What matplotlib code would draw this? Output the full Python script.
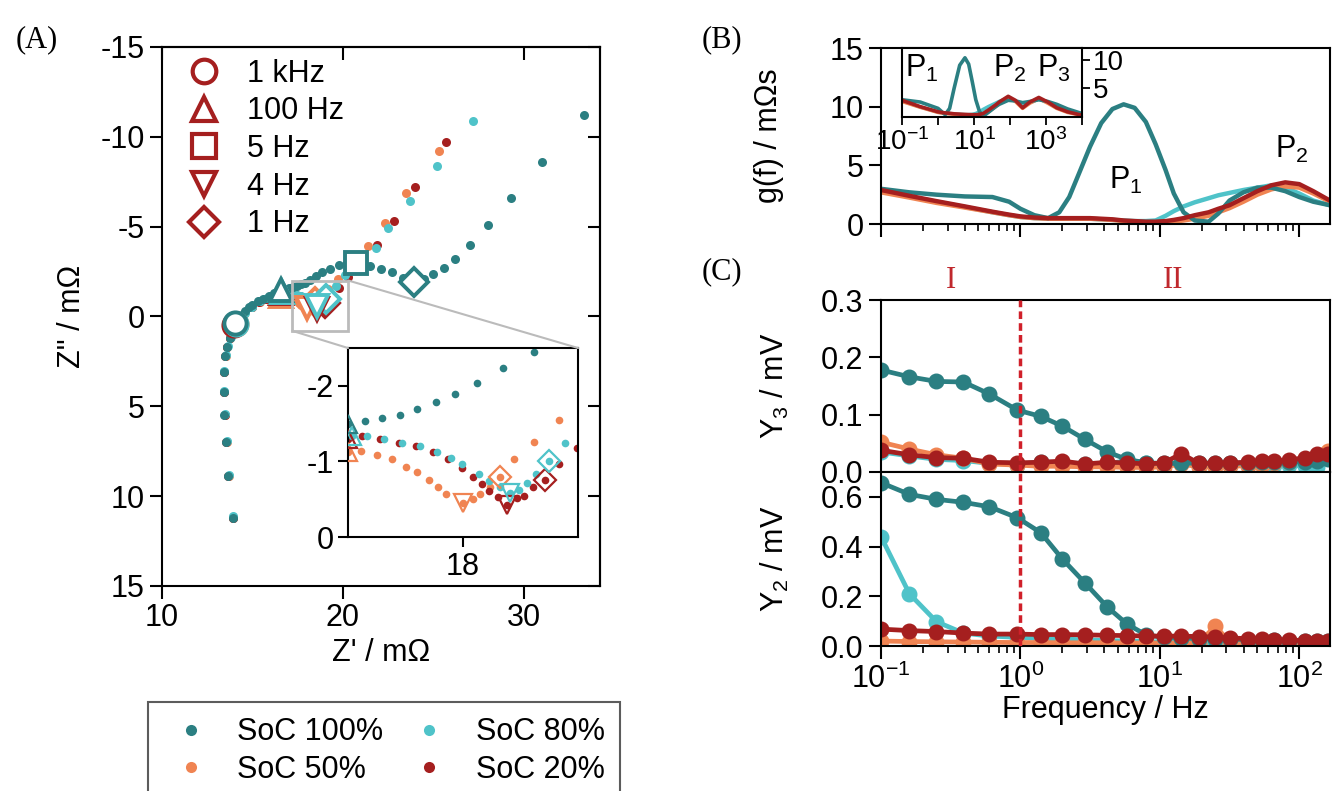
import numpy as np
import matplotlib
matplotlib.use("Agg")
import matplotlib.pyplot as plt
from matplotlib.lines import Line2D
from matplotlib.patches import Rectangle, ConnectionPatch
from matplotlib.ticker import FormatStrFormatter, LogLocator, NullFormatter, FixedLocator
import matplotlib.transforms as mtransforms

plt.rcParams['font.family'] = ['Liberation Sans', 'DejaVu Sans']
plt.rcParams['mathtext.fontset'] = 'custom'
plt.rcParams['mathtext.rm'] = 'Liberation Sans'
plt.rcParams['mathtext.it'] = 'Liberation Sans:italic'
plt.rcParams['axes.linewidth'] = 1.5
plt.rcParams['axes.unicode_minus'] = False
FS = 22

# colours of the four states of charge
c100 = '#2b7f82'
c80 = '#4fc3c9'
c50 = '#f08452'
c20 = '#a51f1f'
red_line = '#d0202a'

# ---------------- (A) Nyquist data: Z' and Z'' in mOhm ----------------
zr_100 = [13.91, 13.66, 13.55, 13.45, 13.40, 13.40, 13.50, 13.60, 13.75, 14.05,
          14.2, 14.4, 14.6, 14.8, 15.0, 15.3, 15.6, 15.9, 16.2, 16.4, 16.6,
          16.81, 17.01, 17.23, 17.44, 17.67, 17.90, 18.17, 18.49, 18.86,
          19.3, 19.8, 20.25, 20.7, 21.5, 22.1, 22.7, 23.3, 23.9,
          24.5, 25.0, 25.6, 26.2, 27.0, 28.0, 29.3, 31.0, 33.3]
zi_100 = [11.2, 8.9, 7.0, 5.5, 4.2, 3.1, 2.2, 1.7, 1.2, 0.35,
          0.15, -0.1, -0.3, -0.5, -0.65, -0.85, -1.0, -1.15, -1.3, -1.4, -1.5,
          -1.53, -1.58, -1.62, -1.70, -1.79, -1.89, -2.04, -2.24, -2.45,
          -2.65, -2.85, -2.95, -2.95, -2.8, -2.65, -2.45, -2.15, -1.9,
          -2.1, -2.35, -2.7, -3.2, -4.0, -5.1, -6.6, -8.6, -11.2]
mk_100 = {'o': 9, '^': 20, 's': 33, 'D': 38}

zr_80 = [13.95, 13.70, 13.58, 13.48, 13.43, 13.43, 13.52, 13.63, 13.80, 14.10,
         14.3, 14.6, 15.0, 15.4, 15.8, 16.2, 16.65,
         16.83, 17.04, 17.26, 17.48, 17.68, 17.85, 17.99, 18.19, 18.32, 18.45,
         18.57, 18.68, 18.78, 18.89, 19.05, 19.24,
         19.6, 20.1, 20.8, 21.8, 22.5, 23.7, 25.2, 27.2]
zi_80 = [11.1, 8.85, 6.95, 5.45, 4.15, 3.05, 2.15, 1.65, 1.15, 0.40,
         0.15, -0.2, -0.55, -0.85, -1.05, -1.2, -1.34,
         -1.33, -1.30, -1.25, -1.21, -1.13, -1.05, -0.96, -0.83, -0.74, -0.66,
         -0.58, -0.62, -0.71, -0.84, -1.0, -1.25,
         -1.7, -2.3, -3.0, -3.8, -4.9, -6.4, -8.4, -10.9]
mk_80 = {'o': 9, '^': 16, 'D': 31, 'v': 27}

zr_50 = [13.93, 13.68, 13.57, 13.47, 13.42, 13.42, 13.52, 13.62, 13.78, 14.08,
         14.3, 14.6, 15.0, 15.4, 15.8, 16.2, 16.6,
         16.76, 16.95, 17.14, 17.31, 17.44, 17.59, 17.69, 17.79, 18.0,
         18.12, 18.21, 18.33, 18.45, 18.62, 18.86, 19.17,
         19.7, 20.4, 21.4, 22.3, 23.5, 25.3]
zi_50 = [11.2, 8.9, 7.0, 5.5, 4.2, 3.1, 2.2, 1.7, 1.2, 0.4,
         0.1, -0.25, -0.55, -0.8, -0.95, -1.05, -1.12,
         -1.14, -1.09, -1.03, -0.93, -0.86, -0.75, -0.66, -0.57, -0.45,
         -0.50, -0.57, -0.66, -0.80, -1.03, -1.26, -1.55,
         -2.1, -2.9, -3.9, -5.2, -6.9, -9.2]
mk_50 = {'o': 9, '^': 16, 'D': 29, 'v': 25}

zr_20 = [13.92, 13.67, 13.56, 13.46, 13.41, 13.41, 13.51, 13.61, 13.76, 14.0,
         14.25, 14.55, 14.95, 15.35, 15.75, 16.15, 16.6,
         16.77, 16.99, 17.22, 17.43, 17.63, 17.82, 17.99, 18.12, 18.23, 18.32,
         18.43, 18.54, 18.66, 18.74, 18.85, 19.00, 19.17, 19.39,
         19.8, 20.3, 21.0, 21.9, 22.8, 24.0, 25.7]
zi_20 = [11.2, 8.9, 7.0, 5.5, 4.2, 3.1, 2.2, 1.7, 1.2, 0.5,
         0.2, -0.15, -0.5, -0.8, -1.0, -1.15, -1.3,
         -1.33, -1.30, -1.25, -1.20, -1.12, -1.03, -0.91, -0.79, -0.70, -0.61,
         -0.53, -0.42, -0.51, -0.54, -0.66, -0.75, -0.97, -1.18,
         -1.6, -2.2, -3.0, -4.0, -5.3, -7.2, -9.7]
mk_20 = {'o': 9, '^': 16, 'D': 32, 'v': 28}

freq_marks = ['o', '^', 's', 'v', 'D']
freq_labels = ['1 kHz', '100 Hz', '5 Hz', '4 Hz', '1 Hz']

# ---------------- (B) distribution of relaxation times ----------------
f_b = [0.1, 0.16, 0.25, 0.4, 0.63, 0.83, 1.0, 1.26, 1.58, 1.9, 2.24, 2.63, 3.16,
       3.8, 4.57, 5.5, 6.6, 7.94, 9.33, 11.0, 12.6, 14.8, 17.8, 22.4, 26.3,
       31.6, 39.8, 50.1, 63.1, 79.4, 100, 126, 166]
g_100 = [3.0, 2.7, 2.5, 2.35, 2.3, 1.9, 1.3, 0.75, 0.5, 1.0, 2.3, 4.3, 6.6,
         8.6, 9.8, 10.2, 9.9, 8.7, 6.8, 4.6, 2.6, 1.0, 0.3, 0.2, 0.9,
         2.0, 2.7, 3.1, 3.1, 2.8, 2.3, 1.9, 1.6]
g_80 = [2.8, 2.35, 1.9, 1.45, 1.0, 0.75, 0.6, 0.5, 0.45, 0.45, 0.45, 0.45, 0.45,
        0.4, 0.35, 0.3, 0.25, 0.25, 0.3, 0.7, 1.1, 1.5, 1.85, 2.2, 2.45,
        2.65, 2.9, 3.1, 3.3, 3.1, 2.6, 2.0, 1.6]
g_50 = [2.7, 2.25, 1.8, 1.4, 1.0, 0.75, 0.6, 0.5, 0.45, 0.45, 0.45, 0.45, 0.45,
        0.4, 0.35, 0.25, 0.15, 0.1, 0.1, 0.12, 0.2, 0.3, 0.45, 0.7, 1.0,
        1.35, 1.9, 2.5, 2.95, 3.2, 3.1, 2.6, 1.9]
g_20 = [2.9, 2.4, 1.95, 1.5, 1.05, 0.8, 0.65, 0.55, 0.5, 0.5, 0.5, 0.5, 0.5,
        0.45, 0.4, 0.3, 0.25, 0.2, 0.2, 0.25, 0.35, 0.5, 0.75, 1.0, 1.3,
        1.6, 2.2, 2.8, 3.3, 3.55, 3.4, 2.8, 2.0]

f_in = [0.1, 0.32, 1.0, 1.58, 2.1, 2.8, 4.0, 5.6, 7.1, 8.9, 11.2, 14.1, 17.8, 25,
        40, 50, 89, 141, 224, 355, 631, 1122, 1995, 3981, 10000]
gi_100 = [3.0, 2.6, 1.5, 0.4, 1.5, 5.0, 9.0, 10.3, 9.2, 6.2, 3.0, 1.0, 0.1, 0.8,
          1.8, 2.2, 2.9, 2.8, 2.5, 2.7, 3.0, 2.7, 2.2, 1.4, 0.6]
gi_80 = [2.8, 1.75, 0.85, 0.65, 0.6, 0.5, 0.45, 0.4, 0.4, 0.45, 0.6, 0.9, 1.3, 1.8,
         2.4, 2.7, 3.3, 2.8, 1.8, 2.5, 3.1, 2.6, 1.8, 1.0, 0.4]
gi_50 = [2.7, 1.7, 0.8, 0.6, 0.55, 0.45, 0.4, 0.3, 0.27, 0.25, 0.2, 0.25, 0.4, 0.9,
         1.8, 2.4, 3.3, 2.7, 1.5, 2.4, 3.2, 2.4, 1.5, 0.8, 0.3]
gi_20 = [2.9, 1.8, 0.9, 0.7, 0.65, 0.55, 0.5, 0.45, 0.42, 0.4, 0.4, 0.45, 0.6, 1.2,
         2.1, 2.6, 3.6, 2.9, 1.6, 2.6, 3.4, 2.6, 1.6, 0.9, 0.3]

# ---------------- (C) harmonics Y3 and Y2 in mV ----------------
f_c = [0.1, 0.16, 0.25, 0.39, 0.6, 0.95, 1.4, 2.0, 2.9, 4.2, 5.8, 8.0, 10.7,
       14.3, 19, 25, 32, 43, 54, 66, 85, 110, 135, 162]
y3_100 = [0.178, 0.166, 0.158, 0.157, 0.136, 0.108, 0.097, 0.080, 0.057, 0.035,
          0.022, 0.016, 0.015, 0.015, 0.016, 0.015, 0.015, 0.016, 0.017, 0.017,
          0.018, 0.018, 0.020, 0.022]
y3_80 = [0.035, 0.028, 0.022, 0.020, 0.015, 0.013, 0.018, 0.016, 0.014, 0.014,
         0.020, 0.016, 0.013, 0.017, 0.012, 0.012, 0.012, 0.013, 0.014, 0.012,
         0.012, 0.010, 0.008, 0.025]
y3_50 = [0.052, 0.040, 0.030, 0.024, 0.014, 0.012, 0.010, 0.010, 0.009, 0.009,
         0.008, 0.008, 0.009, 0.014, 0.009, 0.009, 0.010, 0.011, 0.013, 0.016,
         0.018, 0.022, 0.030, 0.037]
y3_20 = [0.038, 0.030, 0.025, 0.024, 0.017, 0.016, 0.017, 0.019, 0.014, 0.017,
         0.016, 0.014, 0.016, 0.032, 0.015, 0.016, 0.016, 0.017, 0.019, 0.019,
         0.021, 0.025, 0.031, 0.032]
y2_100 = [0.657, 0.610, 0.590, 0.578, 0.560, 0.516, 0.456, 0.350, 0.254, 0.157,
          0.089, 0.044, 0.035, 0.033, 0.030, 0.030, 0.028, 0.026, 0.025, 0.024,
          0.022, 0.020, 0.020, 0.020]
y2_80 = [0.440, 0.210, 0.098, 0.052, 0.040, 0.035, 0.030, 0.028, 0.025, 0.022,
         0.020, 0.018, 0.016, 0.015, 0.015, 0.014, 0.013, 0.013, 0.012, 0.012,
         0.012, 0.012, 0.011, 0.011]
y2_50 = [0.020, 0.018, 0.017, 0.016, 0.015, 0.014, 0.014, 0.013, 0.013, 0.013,
         0.012, 0.012, 0.012, 0.012, 0.013, 0.080, 0.014, 0.012, 0.011, 0.011,
         0.010, 0.010, 0.010, 0.010]
y2_20 = [0.068, 0.062, 0.058, 0.052, 0.048, 0.048, 0.046, 0.046, 0.045, 0.043,
         0.042, 0.040, 0.040, 0.040, 0.038, 0.036, 0.032, 0.030, 0.028, 0.026,
         0.024, 0.022, 0.021, 0.020]

# drawing order: back to front
nyq = [(zr_50, zi_50, mk_50, c50), (zr_20, zi_20, mk_20, c20),
       (zr_80, zi_80, mk_80, c80), (zr_100, zi_100, mk_100, c100)]

fig = plt.figure(figsize=(13.33, 7.91), dpi=100)

# ================= (A) =================
axA = fig.add_axes([0.1215, 0.2592, 0.3286, 0.6814])
for zr, zi, mk, c in nyq:
    axA.plot(zr, zi, 'o', ms=6.5, color=c, mec='none', zorder=2)
for zo, kind in [(3, 'D'), (4, 'v'), (5, 'o^s')]:
    for zr, zi, mk, c in nyq:
        for m, i in mk.items():
            if m in kind:
                axA.plot(zr[i], zi[i], m, ms=16 if m != 'D' else 14, mfc='white',
                         mec=c, mew=2.8, zorder=zo)
axA.set_xlim(10, 34.2)
axA.set_ylim(15, -15)
axA.set_xticks([10, 20, 30])
axA.set_yticks([-15, -10, -5, 0, 5, 10, 15])
axA.tick_params(labelsize=FS, direction='out', length=9, width=1.5)
axA.set_xlabel("Z' / m\u03a9", fontsize=FS, labelpad=3)
axA.set_ylabel('Z" / m\u03a9', fontsize=FS)
axA.yaxis.set_label_coords(-0.17, 0.5)
secx = axA.secondary_xaxis('top')
secx.set_xticks([10, 20, 30])
secx.tick_params(direction='in', length=9, width=1.5, labeltop=False)
secy = axA.secondary_yaxis('right')
secy.set_yticks([-15, -10, -5, 0, 5, 10, 15])
secy.tick_params(direction='in', length=9, width=1.5, labelright=False)

# frequency-marker legend
h_freq = [Line2D([], [], ls='none', marker=m, ms=17 if m != 'D' else 15, mfc='none',
                 mec=c20, mew=3) for m in freq_marks]
axA.legend(h_freq, freq_labels, loc='upper left', frameon=False, fontsize=FS,
           handlelength=1.0, handletextpad=0.9, labelspacing=0.25,
           borderaxespad=0.2, bbox_to_anchor=(0.02, 1.012))

# zoom box and inset
axA.add_patch(Rectangle((17.2, -2.0), 3.1, 2.8, fill=False, ec='#bbbbbb', lw=2, zorder=6))
axI = fig.add_axes([0.2611, 0.3211, 0.1726, 0.2389])
for zr, zi, mk, c in nyq:
    axI.plot(zr, zi, 'o', ms=5.5, color=c, mec='none', zorder=2)
for zr, zi, mk, c in nyq:
    for m, i in mk.items():
        axI.plot(zr[i], zi[i], m, ms=13 if m != 'D' else 11, mfc='none', mec=c,
                 mew=1.6, zorder=3)
axI.set_xlim(16.6, 19.4)
axI.set_ylim(0, -2.5)
axI.set_xticks([18])
axI.set_yticks([-2, -1, 0])
axI.tick_params(labelsize=FS, direction='out', length=7, width=1.5)
for xyA, xyB in [((20.3, -2.0), (1, 1)), ((17.2, 0.8), (0, 1))]:
    con = ConnectionPatch(xyA=xyA, coordsA=axA.transData, xyB=xyB,
                          coordsB=axI.transAxes, color='#bbbbbb', lw=1.5)
    fig.add_artist(con)

# bottom legend for SoC
h_soc = [Line2D([], [], ls='none', marker='o', ms=8, color=c, mec='none')
         for c in [c100, c50, c80, c20]]
leg = fig.legend(h_soc, ['SoC 100%', 'SoC 50%', 'SoC 80%', 'SoC 20%'], ncol=2,
                 loc='upper left', bbox_to_anchor=(148 / 1333, 1 - 702 / 791),
                 fontsize=FS, frameon=True, fancybox=False, edgecolor='#333333',
                 handlelength=1.8, handletextpad=0.62, columnspacing=0.6,
                 labelspacing=0.25, borderpad=0.5, borderaxespad=0)
leg.get_frame().set_linewidth(1.5)

# ================= (B) =================
axB = fig.add_axes([0.6609, 0.7168, 0.3368, 0.2225])
for g, c in [(g_80, c80), (g_50, c50), (g_100, c100), (g_20, c20)]:
    axB.plot(f_b, g, '-', color=c, lw=3.2, solid_capstyle='round')
axB.set_xscale('log')
axB.set_xlim(0.1, 166)
axB.set_ylim(0, 15)
axB.set_yticks([0, 5, 10, 15])
axB.xaxis.set_major_locator(LogLocator(base=10, numticks=10))
axB.xaxis.set_minor_locator(LogLocator(base=10, subs=np.arange(2, 10), numticks=20))
axB.xaxis.set_major_formatter(NullFormatter())
axB.xaxis.set_minor_formatter(NullFormatter())
axB.tick_params(labelsize=FS, direction='out', length=9, width=1.5)
axB.tick_params(which='minor', direction='out', length=5, width=1.2)
axB.set_ylabel('g(f) / m\u03a9s', fontsize=FS)
axB.yaxis.set_label_coords(-0.215, 0.5)
axB.text(5.7, 3.0, 'P$_1$', fontsize=FS, ha='center')
axB.text(88, 5.6, 'P$_2$', fontsize=FS, ha='center')

axBi = fig.add_axes([0.6767, 0.8521, 0.1350, 0.0872])
for g, c in [(gi_80, c80), (gi_50, c50), (gi_100, c100), (gi_20, c20)]:
    axBi.plot(f_in, g, '-', color=c, lw=2.6)
axBi.set_xscale('log')
axBi.set_xlim(0.1, 1e4)
axBi.set_ylim(0, 12)
axBi.xaxis.set_minor_locator(FixedLocator([]))
axBi.set_xticks([0.1, 1, 10, 100, 1000, 10000])
axBi.set_xticklabels(['10$^{-1}$', '', '10$^{1}$', '', '10$^{3}$', ''])
axBi.yaxis.tick_right()
axBi.set_yticks([5, 10])
axBi.tick_params(labelsize=20, direction='out', length=6, width=1.3, pad=2)
axBi.text(0.35, 7.0, 'P$_1$', fontsize=FS, ha='center')
axBi.text(100, 7.0, 'P$_2$', fontsize=FS, ha='center')
axBi.text(1700, 7.0, 'P$_3$', fontsize=FS, ha='center')

# ================= (C) =================
axC3 = fig.add_axes([0.6609, 0.4033, 0.3368, 0.2174])
axC2 = fig.add_axes([0.6609, 0.1833, 0.3368, 0.2200], sharex=axC3)
for ax, series in [(axC3, [(y3_80, c80), (y3_50, c50), (y3_100, c100), (y3_20, c20)]),
                   (axC2, [(y2_80, c80), (y2_50, c50), (y2_100, c100), (y2_20, c20)])]:
    for y, c in series:
        ax.plot(f_c, y, '-o', color=c, lw=3.4, ms=10.5, mec=c)
    ax.axvline(1.0, color=red_line, ls=(0, (2.2, 1.2)), lw=2.5, zorder=5)
    ax.yaxis.set_major_formatter(FormatStrFormatter('%.1f'))
    ax.tick_params(labelsize=FS, direction='out', length=9, width=1.5)
    ax.tick_params(which='minor', direction='out', length=5, width=1.2)
axC3.set_xscale('log')
axC3.set_xlim(0.1, 166)
axC3.set_ylim(0, 0.3)
axC3.set_yticks([0.0, 0.1, 0.2, 0.3])
axC3.tick_params(axis='x', which='both', bottom=False, labelbottom=False)
axC2.set_ylim(0, 0.7)
axC2.set_yticks([0.0, 0.2, 0.4, 0.6])
axC2.xaxis.set_major_locator(LogLocator(base=10, numticks=10))
axC2.xaxis.set_minor_locator(LogLocator(base=10, subs=np.arange(2, 10), numticks=20))
axC2.xaxis.set_minor_formatter(NullFormatter())
axC2.set_xlabel('Frequency / Hz', fontsize=FS, labelpad=0)
axC3.set_ylabel('Y$_3$ / mV', fontsize=FS)
axC2.set_ylabel('Y$_2$ / mV', fontsize=FS)
axC3.yaxis.set_label_coords(-0.2, 0.5)
axC2.yaxis.set_label_coords(-0.2, 0.5)
trans = mtransforms.blended_transform_factory(axC3.transData, axC3.transAxes)
axC3.text(0.32, 1.03, 'I', transform=trans, color='#c0282d', fontsize=FS,
          family='Liberation Serif', ha='center', va='bottom')
axC3.text(12.5, 1.03, 'II', transform=trans, color='#c0282d', fontsize=FS,
          family='Liberation Serif', ha='center', va='bottom')

# panel letters
for lab, px, py in [('(A)', 37, 40), ('(B)', 722, 40), ('(C)', 722, 272)]:
    fig.text(px / 1333, 1 - py / 791, lab, fontsize=FS, family='Liberation Serif',
             ha='center', va='center')

fig.savefig('out.png', dpi=100)
